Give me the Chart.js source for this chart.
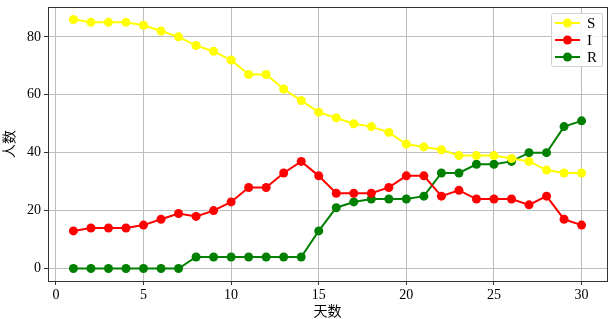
<!DOCTYPE html>
<html>
<head>
<meta charset="utf-8">
<script src="https://cdn.jsdelivr.net/npm/chart.js@4"></script>
<style>
  html, body { margin: 0; padding: 0; background: #fff; }
  #wrap { width: 614px; height: 319px; }
</style>
</head>
<body>
<div id="wrap"><canvas id="c" width="614" height="319"></canvas></div>
<script>
const days = [1,2,3,4,5,6,7,8,9,10,11,12,13,14,15,16,17,18,19,20,21,22,23,24,25,26,27,28,29,30];
const sValues = [86,85,85,85,84,82,80,77,75,72,67,67,62,58,54,52,50,49,47,43,42,41,39,39,39,38,37,34,33,33];
const iValues = [13,14,14,14,15,17,19,18,20,23,28,28,33,37,32,26,26,26,28,32,32,25,27,24,24,24,22,25,17,15];
const rValues = [0,0,0,0,0,0,0,4,4,4,4,4,4,4,13,21,23,24,24,24,25,33,33,36,36,37,40,40,49,51];
const xTicks = [0,5,10,15,20,25,30];
const yTicks = [0,20,40,60,80];
const seriesNames = ['S','I','R'];
const seriesColors = ['#ffff00','#ff0000','#008000'];

const serif = '"Liberation Serif", "DejaVu Serif", serif';
const cjk = '"Noto Sans CJK SC", sans-serif';

function makeSet(name, vals, color) {
    return {
        label: name,
        data: days.map((d, i) => ({ x: d, y: vals[i] })),
        borderColor: color,
        backgroundColor: color,
        pointBackgroundColor: color,
        pointBorderColor: color,
        borderWidth: 2,
        pointRadius: 4.5,
        pointBorderWidth: 0,
        tension: 0
    };
}

// frame around the plot area + legend box inside top right
const framePlugin = {
    id: 'frame',
    afterDraw(chart) {
        const ctx = chart.ctx;
        const a = chart.chartArea;
        ctx.save();
        ctx.strokeStyle = '#333';
        ctx.lineWidth = 1;
        ctx.strokeRect(a.left + 0.5, a.top + 0.5, a.right - a.left, a.bottom - a.top);

        // legend
        const bx = 551, by = 13, bw = 51, bh = 53;
        ctx.fillStyle = 'rgba(255,255,255,0.85)';
        ctx.strokeStyle = '#d0d0d0';
        ctx.beginPath();
        ctx.roundRect(bx + 0.5, by + 0.5, bw, bh, 2);
        ctx.fill();
        ctx.stroke();
        ctx.font = '15px ' + serif;
        ctx.textBaseline = 'middle';
        seriesNames.forEach((n, i) => {
            const y = by + 10 + i * 17;
            ctx.strokeStyle = seriesColors[i];
            ctx.lineWidth = 2;
            ctx.beginPath();
            ctx.moveTo(555, y);
            ctx.lineTo(580, y);
            ctx.stroke();
            ctx.fillStyle = seriesColors[i];
            ctx.beginPath();
            ctx.arc(567.5, y, 4.5, 0, Math.PI * 2);
            ctx.fill();
            ctx.fillStyle = '#000';
            ctx.fillText(n, 587, y + 1);
        });
        ctx.restore();
    }
};

new Chart(document.getElementById('c'), {
    type: 'line',
    data: {
        datasets: [
            makeSet(seriesNames[0], sValues, seriesColors[0]),
            makeSet(seriesNames[1], iValues, seriesColors[1]),
            makeSet(seriesNames[2], rValues, seriesColors[2])
        ]
    },
    options: {
        responsive: false,
        animation: false,
        layout: { autoPadding: false, padding: { left: 0, top: 7, right: 7, bottom: 0 } },
        plugins: {
            legend: { display: false },
            tooltip: { enabled: false }
        },
        scales: {
            x: {
                type: 'linear',
                min: -0.45,
                max: 31.45,
                afterBuildTicks: axis => { axis.ticks = xTicks.map(v => ({ value: v })); },
                afterFit: axis => { axis.height = 38; axis.paddingLeft = 0; axis.paddingRight = 0; },
                grid: { color: '#bdbdbd', lineWidth: 1, tickLength: 4, tickColor: '#333' },
                border: { display: false },
                ticks: { color: '#000', font: { family: serif, size: 14 }, padding: 2, maxRotation: 0 },
                title: { display: true, text: '天数', color: '#000', font: { family: cjk, size: 14 }, padding: { top: 0, bottom: 0 } }
            },
            y: {
                min: -4.3,
                max: 90.3,
                afterBuildTicks: axis => { axis.ticks = yTicks.map(v => ({ value: v })); },
                afterFit: axis => { axis.width = 48; axis.paddingTop = 0; axis.paddingBottom = 0; },
                grid: { color: '#bdbdbd', lineWidth: 1, tickLength: 4, tickColor: '#333' },
                border: { display: false },
                ticks: { color: '#000', font: { family: serif, size: 14 }, padding: 3 },
                title: { display: true, text: '人数', color: '#000', font: { family: cjk, size: 14 }, padding: { top: 0, bottom: 0 } }
            }
        }
    },
    plugins: [framePlugin]
});
</script>
</body>
</html>
